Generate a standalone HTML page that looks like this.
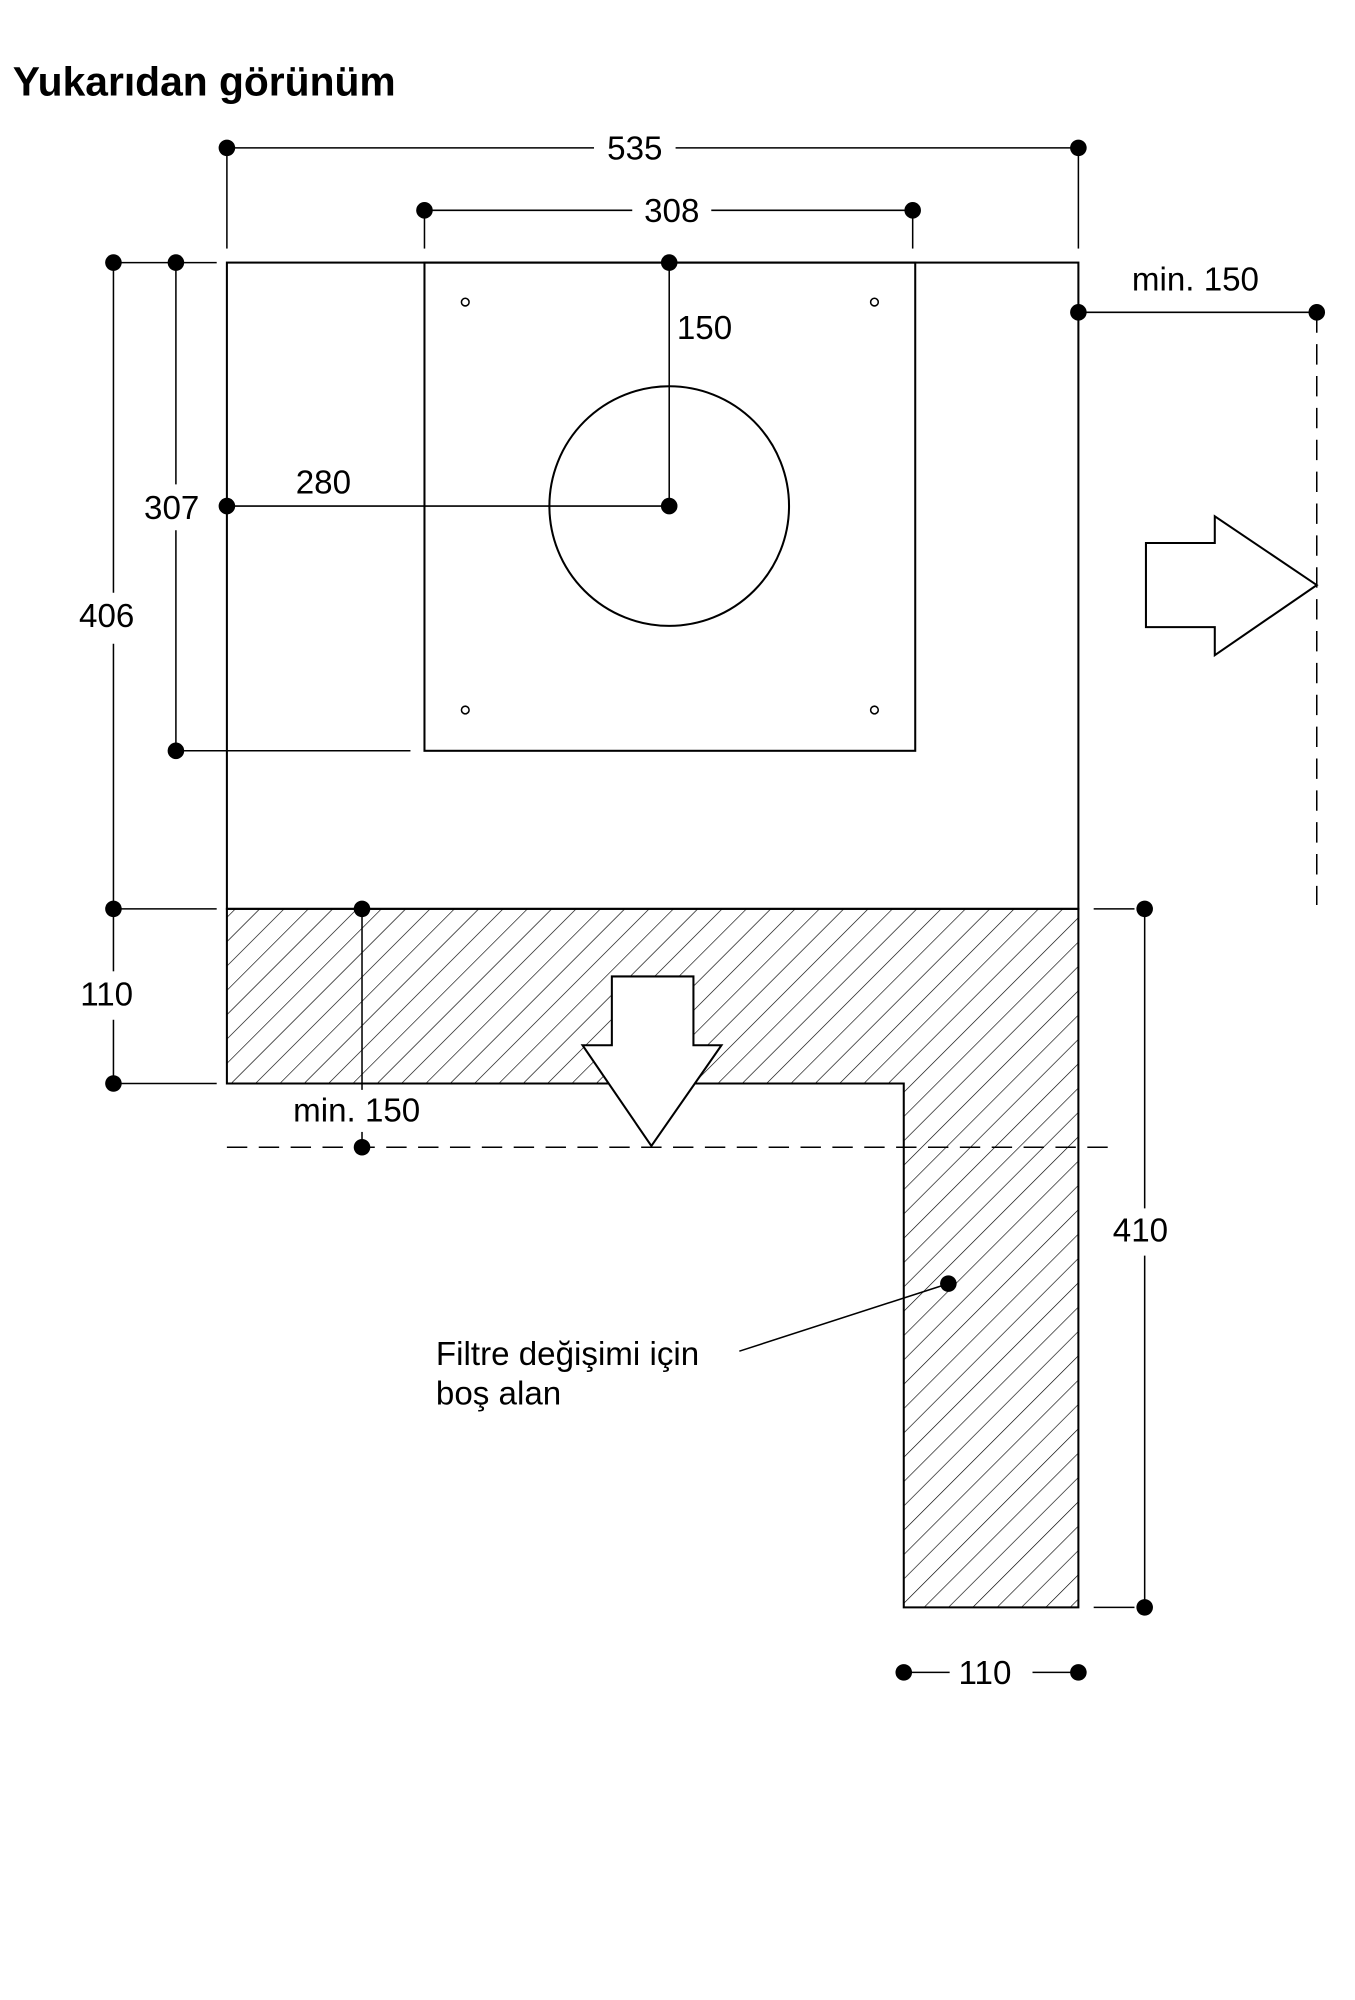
<!DOCTYPE html>
<html><head><meta charset="utf-8"><style>
html,body{margin:0;padding:0;background:#fff;}
svg{display:block;}
text{font-family:"Liberation Sans",Arial,sans-serif;fill:#000;}
</style></head><body>
<svg width="1355" height="2000" viewBox="0 0 1063 1569" xmlns="http://www.w3.org/2000/svg">
<defs>
<pattern id="h" width="13.5" height="13.5" patternUnits="userSpaceOnUse" patternTransform="rotate(45)">
<line x1="0" y1="0" x2="0" y2="13.5" stroke="#000" stroke-width="1"/>
</pattern>
</defs>
<text x="10" y="75" font-size="32" font-weight="bold">Yukarıdan görünüm</text>

<g stroke="#000" stroke-width="1.2" fill="none">
<line x1="178" y1="116" x2="466" y2="116"/><line x1="530" y1="116" x2="846" y2="116"/>
<line x1="178" y1="116" x2="178" y2="195"/><line x1="846" y1="116" x2="846" y2="195"/>
<line x1="333" y1="165" x2="496" y2="165"/><line x1="558" y1="165" x2="716" y2="165"/>
<line x1="333" y1="165" x2="333" y2="195"/><line x1="716" y1="165" x2="716" y2="195"/>
<polygon points="178,713 846,713 846,1261 709,1261 709,850 178,850" fill="url(#h)" stroke-width="1.6"/>
<rect x="178" y="206" width="668" height="507" stroke-width="1.6"/>
<rect x="333" y="206" width="385" height="383" stroke-width="1.6"/>
<circle cx="525" cy="397" r="94" stroke-width="1.6"/>
<circle cx="365" cy="237" r="3"/><circle cx="686" cy="237" r="3"/>
<circle cx="365" cy="557" r="3"/><circle cx="686" cy="557" r="3"/>
<line x1="525" y1="206" x2="525" y2="397"/>
<line x1="178" y1="397" x2="525" y2="397"/>
<line x1="138" y1="206" x2="138" y2="380"/><line x1="138" y1="416" x2="138" y2="589"/>
<line x1="138" y1="589" x2="322" y2="589"/>
<line x1="89" y1="206" x2="170" y2="206"/>
<line x1="89" y1="206" x2="89" y2="465"/><line x1="89" y1="505" x2="89" y2="713"/>
<line x1="89" y1="713" x2="170" y2="713"/>
<line x1="89" y1="713" x2="89" y2="762"/><line x1="89" y1="800" x2="89" y2="850"/>
<line x1="89" y1="850" x2="170" y2="850"/>
<line x1="284" y1="713" x2="284" y2="855"/><line x1="284" y1="888" x2="284" y2="900"/>
<line x1="178" y1="900" x2="870" y2="900" stroke-dasharray="16,9"/>
<polygon points="480,766 544,766 544,820 566,820 511,899 457,820 480,820" fill="#fff" stroke-width="1.6"/>
<line x1="846" y1="245" x2="1033" y2="245"/>
<line x1="1033" y1="245" x2="1033" y2="710" stroke-dasharray="16,9"/>
<polygon points="899,426 953,426 953,405 1033,459 953,514 953,492 899,492" fill="#fff" stroke-width="1.6"/>
<line x1="898" y1="713" x2="898" y2="948"/><line x1="898" y1="985" x2="898" y2="1261"/>
<line x1="858" y1="713" x2="890" y2="713"/><line x1="858" y1="1261" x2="890" y2="1261"/>
<line x1="709" y1="1312" x2="745" y2="1312"/><line x1="810" y1="1312" x2="846" y2="1312"/>
<line x1="744" y1="1007" x2="580" y2="1060"/>
</g>

<g fill="#000">
<circle cx="178" cy="116" r="6.5"/><circle cx="846" cy="116" r="6.5"/>
<circle cx="333" cy="165" r="6.5"/><circle cx="716" cy="165" r="6.5"/>
<circle cx="525" cy="206" r="6.5"/><circle cx="525" cy="397" r="6.5"/>
<circle cx="178" cy="397" r="6.5"/>
<circle cx="138" cy="206" r="6.5"/><circle cx="138" cy="589" r="6.5"/>
<circle cx="89" cy="206" r="6.5"/><circle cx="89" cy="713" r="6.5"/><circle cx="89" cy="850" r="6.5"/>
<circle cx="284" cy="713" r="6.5"/><circle cx="284" cy="900" r="6.5"/>
<circle cx="846" cy="245" r="6.5"/><circle cx="1033" cy="245" r="6.5"/>
<circle cx="898" cy="713" r="6.5"/><circle cx="898" cy="1261" r="6.5"/>
<circle cx="709" cy="1312" r="6.5"/><circle cx="846" cy="1312" r="6.5"/>
<circle cx="744" cy="1007" r="6.5"/>
</g>

<g font-size="26">
<text x="498" y="125" text-anchor="middle">535</text>
<text x="527" y="174" text-anchor="middle">308</text>
<text x="531" y="266">150</text>
<text x="232" y="387">280</text>
<text x="113" y="407">307</text>
<text x="62" y="492">406</text>
<text x="63" y="789">110</text>
<text x="230" y="880">min. 150</text>
<text x="888" y="228">min. 150</text>
<text x="873" y="974">410</text>
<text x="752" y="1321">110</text>
<text x="342" y="1071">Filtre değişimi için</text>
<text x="342" y="1102">boş alan</text>
</g>
</svg>
</body></html>
